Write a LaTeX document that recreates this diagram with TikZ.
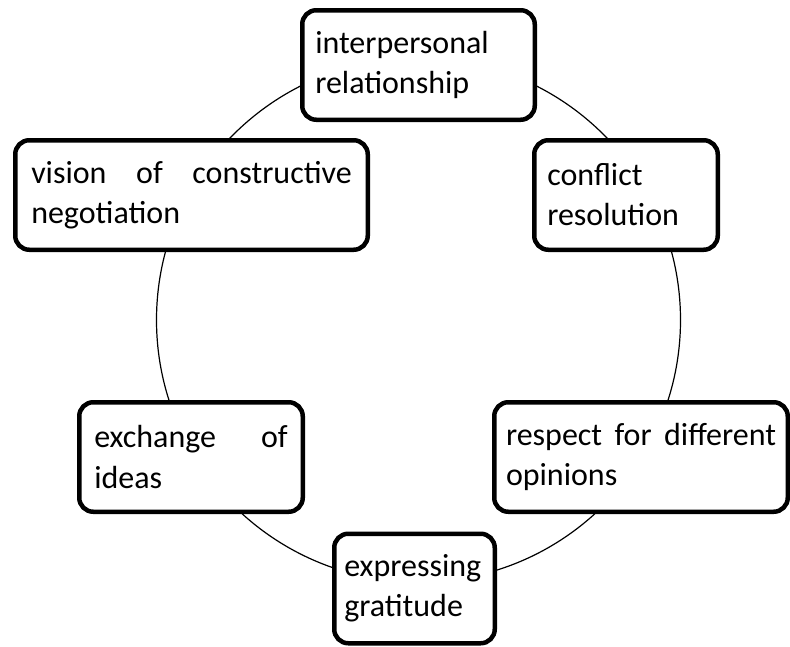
\documentclass[tikz,border=0pt]{standalone}
\usepackage{fontspec}
\setmainfont{Carlito}
\hyphenpenalty=10000
\exhyphenpenalty=10000
\tolerance=10000
\hbadness=10000

\begin{document}
\begin{tikzpicture}[
    x=1pt, y=-1pt,
    topic/.style={rectangle, draw, line width=4.5pt, rounded corners=14pt, fill=white,
        inner xsep=13pt, inner ysep=0pt, minimum height=109.5pt, align=justify,
        font=\fontsize{32}{40}\selectfont},
    ring/.style={line width=1.2pt}
]
\useasboundingbox (0,0) rectangle (790,646);

% === Círculo ===
\coordinate (hub) at (418.5, 320);
\draw[ring] (hub) circle[radius=262pt];

% === Temas ===
\node[topic, text width=206.5pt] (rel) at (418.5, 65) {interpersonal relationship};
\node[topic, text width=157.5pt] (conf) at (626, 195) {conflict resolution};
\node[topic, inner xsep=16pt, text width=320.5pt] (neg) at (191.5, 195) {vision of constructive\linebreak negotiation};
\node[topic, inner xsep=15pt, text width=193.5pt] (ideas) at (191, 457) {exchange of\linebreak ideas};
\node[topic, inner xsep=11.75pt, text width=270pt] (resp) at (641, 457) {respect for different\linebreak opinions};
\node[topic, inner xsep=10pt, text width=140.5pt] (grat) at (414.5, 588.5) {expressing gratitude};

\end{tikzpicture}
\end{document}
